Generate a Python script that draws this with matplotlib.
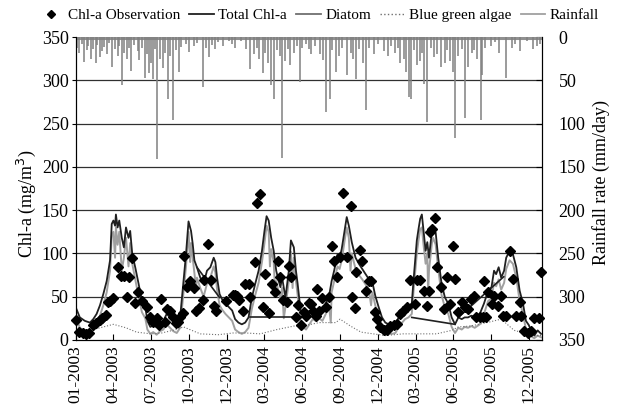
import numpy as np
import matplotlib
matplotlib.use('Agg')
import matplotlib.pyplot as plt
from matplotlib.lines import Line2D

plt.rcParams['font.family'] = ['Liberation Serif', 'DejaVu Serif']

# x values are days since 01-2003
tick_days = [0, 90, 180, 270, 360, 450, 540, 630, 720, 810, 900, 990, 1080]
tick_labels = ['01-2003', '04-2003', '07-2003', '10-2003', '12-2003', '03-2004',
               '06-2004', '09-2004', '12-2004', '03-2005', '06-2005', '09-2005',
               '12-2005']

obs_day = [0, 9, 17, 25, 33, 41, 49, 57, 64, 72, 78, 82, 88, 100, 108, 116, 123,
           128, 134, 142, 148, 158, 171, 178, 185, 193, 199, 204, 212, 217, 224,
           233, 239, 244, 249, 257, 259, 265, 273, 281, 287, 295, 303, 306, 315,
           322, 330, 335, 358, 375, 379, 384, 390, 399, 404, 414, 415, 427, 432,
           439, 446, 452, 460, 468, 474, 482, 488, 494, 504, 509, 513, 524, 529,
           537, 545, 556,
           549, 561, 565, 572, 576, 580, 588, 596, 604, 610, 616, 624, 629, 637,
           647, 655, 658, 665, 669, 677, 683, 691, 699, 705, 713, 718, 726, 734,
           742, 750, 758, 766, 774, 781, 789, 797, 809, 813, 821, 829, 837, 841,
           845, 850, 856, 862, 870, 878, 884, 892, 900, 904, 912, 920, 927, 935,
           943, 950, 955, 963, 971, 973, 979, 983, 991, 998, 1006, 1014, 1018,
           1026, 1034, 1042, 1050, 1058, 1062, 1069, 1077, 1084, 1093, 1103, 1110]
obs_val = [23.5, 8.8, 7.7, 6.9, 7.7, 17.7, 19.6, 23.1, 25, 29.2, 43.5, 45.4, 48.1,
           84.6, 74.2, 74.2, 49.2, 72.3, 94.6, 42.3, 55, 45.4, 37.7, 26.2, 20.4,
           25, 17.7, 47.3, 20.4, 35.8, 33.8, 26.2, 19.2, 20.4, 26.2, 31.2, 97.3,
           60.8, 67.7, 60, 33.8, 36.5, 46.2, 69.2, 110.8, 69.2, 39.6, 33.8, 45.4,
           52.3, 52.3, 51.2, 46.5, 33.8, 64.6, 64.6, 49.2, 89.6, 157.7, 169.2,
           37.7, 76.2, 31.2, 64.6, 55, 90.8, 72.3, 46.2, 43.5, 85.8, 72.3, 26.2,
           40.8, 17.7, 31.9, 42.3,
           28.1, 41.5, 33.1, 28.1, 58.8, 33.8, 48.5, 37.7, 49.2, 108.8, 90.8,
           72.3, 95.4, 170.4, 95.4, 155, 50, 36.9, 78.1, 103.8, 91.5, 56.9, 68.5,
           68.5, 31.9, 24.2, 14.6, 11.5, 11.5, 16.5, 17.7, 18.5, 30, 33.8, 37.7,
           69.2, 41.5, 69.2, 69.2, 56.9, 39.6, 56.9, 124.2, 128.1, 140.8, 83.8,
           60.8, 35.8, 73.1, 41.5, 108.8, 70.4, 31.9, 43.5, 37.7, 35.8, 47.3, 51.2,
           26.2, 26.2, 26.2, 68.5, 26.2, 55, 41.5, 51.2, 39.6, 51.2, 28.1, 28.1,
           102.3, 70.4, 28.1, 43.5, 28.1, 10.8, 7.7, 10.8, 25, 25, 78.8]

total_day = [0, 10, 22, 34, 42, 50, 58, 66, 74, 82, 86, 90, 94, 96, 100, 104, 110,
             115, 120, 126, 130, 135, 142, 150, 158, 166, 171, 178, 185, 193, 201,
             209, 217, 225, 233, 241, 249, 257, 263, 269, 275, 279, 283, 289, 297,
             305, 313, 321, 329, 333, 337, 343, 349, 357, 365, 373, 380, 388, 396,
             404, 412, 420, 428, 436, 444, 450, 455, 460, 466, 472, 478, 484, 488,
             492, 500, 508, 513, 520, 525, 529, 536, 544, 549, 557, 565, 572, 580,
             588, 596, 604, 610, 616, 624, 629, 634, 642, 646, 651, 658, 663, 667,
             675, 683, 691, 699, 707, 714, 722, 730, 738, 746, 754, 762, 770, 778,
             785, 793, 801, 805, 813, 817, 821, 825, 829, 834, 838, 842, 849, 852,
             858, 864, 872, 880, 888, 896, 904, 912, 920, 927, 935, 943, 951, 963,
             973, 983, 991, 997, 1002, 1008, 1014, 1021, 1026, 1034, 1042, 1050,
             1058, 1066, 1073, 1080, 1085, 1093, 1101, 1109]
total_val = [38, 26, 22, 20, 24, 30, 40, 53, 68, 92, 134, 138, 132, 145, 130, 138,
             118, 107, 130, 118, 126, 99, 84, 65, 45, 38, 22, 15, 17, 15, 18, 22,
             30, 26, 22, 18, 26, 68, 99, 137, 126, 111, 92, 84, 72, 65, 80, 84, 95,
             90, 72, 53, 47, 42, 38, 34, 24, 20, 18, 20, 26, 49, 65, 80, 103, 126,
             143, 138, 118, 103, 80, 68, 61, 72, 49, 80, 115, 107, 80, 65, 34, 26,
             24, 30, 36, 34, 36, 34, 42, 51, 68, 80, 99, 95, 105, 130, 142, 132,
             113, 103, 95, 88, 82, 76, 70, 67, 51, 38, 26, 20, 18, 18, 19, 26, 32,
             36, 38, 42, 68, 115, 128, 140, 145, 126, 103, 113, 95, 126, 130, 124,
             95, 65, 49, 42, 26, 18, 26, 24, 26, 26, 28, 26, 30, 42, 57, 61, 80,
             76, 84, 72, 80, 95, 103, 99, 84, 57, 42, 22, 17, 11, 5, 11, 7]

# straight segments bridging gaps in the simulated series
link_day = [[416, 520], [801, 904], [912, 1020], [289, 343]]
link_val = [[26, 26], [26, 18], [26, 73], [84, 49]]

diatom_day = [0, 10, 22, 34, 42, 50, 58, 66, 74, 82, 86, 90, 94, 96, 100, 104, 110,
              115, 120, 126, 130, 135, 142, 150, 158, 166, 171, 178, 185, 193, 201,
              209, 217, 225, 233, 241, 249, 257, 263, 269, 273, 275, 279, 283, 287,
              289, 297, 305, 313, 321, 329, 333, 337, 343, 349, 357, 365, 373, 380,
              388, 396, 404, 412, 420, 428, 436, 444, 450, 455, 460, 463, 466, 472,
              475, 478, 484, 488, 492, 496, 500, 508, 513, 517, 520, 525, 529, 536,
              544, 549, 557, 565, 572, 580, 588, 596, 604, 608, 610, 616, 624, 629,
              634, 642, 646, 651, 655, 658, 663, 667, 675, 683, 691, 699, 704, 707,
              714, 722, 730, 738, 746, 754, 762, 770, 778, 785, 793, 801, 805, 813,
              817, 821, 825, 829, 834, 838, 840, 842, 849, 852, 858, 864, 872, 880,
              888, 896, 904, 912, 920, 927, 935, 943, 951, 963, 973, 983, 991, 997,
              1002, 1008, 1014, 1021, 1026, 1034, 1042, 1050, 1058, 1066, 1073,
              1080, 1085, 1093, 1101, 1109]
diatom_val = [28, 14, 10, 9, 12, 18, 28, 40, 55, 80, 120, 125, 95, 130, 110, 125,
              80, 95, 118, 85, 112, 88, 70, 50, 32, 25, 12, 7, 9, 6, 10, 12, 18,
              14, 10, 8, 14, 55, 85, 125, 90, 112, 95, 78, 60, 72, 60, 50, 65, 72,
              85, 78, 58, 40, 35, 30, 26, 22, 12, 9, 7, 9, 14, 36, 52, 66, 90, 112,
              132, 125, 85, 105, 90, 60, 68, 55, 48, 60, 25, 38, 68, 102, 60, 95,
              68, 52, 22, 14, 12, 18, 24, 22, 25, 22, 30, 38, 20, 55, 68, 85, 82,
              92, 118, 130, 118, 80, 100, 90, 82, 75, 70, 64, 58, 40, 55, 40, 26,
              15, 9, 7, 7, 8, 15, 20, 24, 26, 30, 55, 100, 115, 128, 130, 110, 88,
              100, 55, 80, 112, 118, 110, 82, 52, 37, 30, 15, 8, 14, 12, 15, 14, 16,
              14, 18, 30, 45, 48, 66, 62, 70, 58, 66, 82, 92, 88, 72, 45, 30, 12, 8,
              4, 2, 5, 3]

bga_day = [0, 25, 50, 90, 120, 145, 180, 205, 240, 257, 297, 340, 375, 405, 440,
           480, 520, 541, 580, 620, 630, 655, 680, 738, 780, 820, 860, 896, 912,
           940, 980, 1014, 1045, 1093, 1110]
bga_val = [15, 11, 13, 18, 14, 9, 7, 8, 12, 15, 7, 6, 8, 8, 7, 12, 16, 16, 20, 20,
           24, 16, 9, 5, 7, 7, 7, 11, 15, 16, 20, 24, 11, 5, 5]

rain_day = [3, 8, 14, 20, 26, 30, 36, 42, 48, 52, 58, 63, 68, 75, 80, 87, 95, 100,
            104, 110, 115, 122, 126, 131, 140, 148, 152, 158, 165, 170, 176, 180,
            185, 190, 195, 200, 209, 214, 219, 226, 231, 238, 246, 252, 262, 270,
            282, 290, 303, 310, 317, 325, 333, 340, 350, 365, 372, 380, 395, 405,
            416, 425, 432, 438, 446, 452, 458, 466, 473, 480, 486, 492, 500, 505,
            512, 520, 527, 534, 540, 548, 556, 562, 570, 583, 590, 597, 605, 612,
            621, 628, 635, 647, 655, 662, 669, 676, 684, 693, 700, 710, 720, 735,
            745, 752, 760, 768, 774, 782, 788, 794, 800, 806, 814, 820, 826, 830,
            838, 846, 855, 862, 870, 879, 886, 893, 900, 905, 912, 920, 929, 936,
            944, 949, 956, 965, 969, 976, 990, 1000, 1010, 1025, 1040, 1048, 1060,
            1075, 1090, 1100, 1106]
rain_val = [12, 18, 8, 29, 15, 10, 25, 14, 30, 9, 23, 16, 11, 19, 7, 34, 14, 22, 10,
            55, 18, 25, 13, 39, 9, 16, 26, 12, 47, 20, 42, 30, 48, 14, 141, 25, 36,
            18, 71, 22, 96, 15, 40, 11, 8, 17, 10, 7, 58, 12, 23, 9, 14, 6, 10, 5,
            8, 12, 5, 14, 37, 20, 12, 25, 41, 18, 30, 55, 72, 15, 22, 140, 28, 14,
            32, 18, 10, 52, 12, 8, 14, 20, 10, 19, 26, 86, 71, 15, 40, 22, 12, 44,
            18, 25, 48, 14, 30, 84, 12, 20, 8, 16, 22, 10, 18, 12, 30, 25, 40, 69,
            71, 15, 32, 28, 18, 54, 98, 12, 23, 20, 35, 30, 15, 28, 40, 117, 22,
            14, 93, 35, 18, 15, 25, 96, 44, 12, 10, 6, 18, 47, 12, 8, 16, 5, 14, 10,
            8]

fig = plt.figure(figsize=(6.25, 4.13), dpi=100)
ax = fig.add_axes([0.121, 0.177, 0.746, 0.733])

for y in [50, 100, 150, 200, 250, 300]:
    ax.axhline(y, color='#303030', linewidth=0.9, zorder=0)

ax.plot(diatom_day, diatom_val, color='#a0a0a0', linewidth=1.4, zorder=2)
ax.plot(bga_day, bga_val, color='#707070', linewidth=0.8, linestyle=':', zorder=2)
ax.plot(total_day, total_val, color='#202020', linewidth=1.3, zorder=3)
for d, v in zip(link_day, link_val):
    ax.plot(d, v, color='#202020', linewidth=1.2, zorder=3)
ax.plot(obs_day, obs_val, linestyle='none', marker='D', markersize=5.2,
        color='black', zorder=4, clip_on=False)

ax.set_xlim(0, 1111)
ax.set_ylim(0, 350)
ax.set_yticks(range(0, 351, 50))
ax.set_xticks(tick_days)
ax.set_xticklabels(tick_labels, rotation=90, fontsize=12.5)
ax.tick_params(axis='y', labelsize=13, direction='out', length=3, pad=2)
ax.tick_params(axis='x', direction='in', length=4, pad=4)
ax.spines['top'].set_visible(False)
ax.set_ylabel('Chl-a (mg/m$^3$)', fontsize=13)
ax.yaxis.set_label_coords(-0.08, 0.45)

ax2 = ax.twinx()
ax2.axhline(1, color='#909090', linewidth=2.2)
ax2.vlines(rain_day, 0, rain_val, color='#808080', linewidth=1.1)
ax2.set_ylim(350, 0)
ax2.set_yticks(range(0, 351, 50))
ax2.tick_params(axis='y', labelsize=13, direction='in', length=4, pad=12)
ax2.spines['top'].set_visible(False)
ax2.set_ylabel('Rainfall rate (mm/day)', fontsize=13, rotation=90)
ax2.yaxis.set_label_coords(1.108, 0.52)

handles = [
    Line2D([], [], linestyle='none', marker='D', markersize=4, color='black'),
    Line2D([], [], color='#202020', linewidth=1.3),
    Line2D([], [], color='#707070', linewidth=1.3),
    Line2D([], [], color='#707070', linewidth=1.0, linestyle=':'),
    Line2D([], [], color='#a0a0a0', linewidth=1.3),
]
labels = ['Chl-a Observation', 'Total Chl-a', 'Diatom', 'Blue green algae', 'Rainfall']
fig.legend(handles, labels, loc='center', bbox_to_anchor=(0.51, 0.963), ncol=5,
           frameon=False, fontsize=11, handlelength=1.6, handletextpad=0.3,
           columnspacing=0.6, borderaxespad=0)

fig.savefig('out.png', dpi=100)
